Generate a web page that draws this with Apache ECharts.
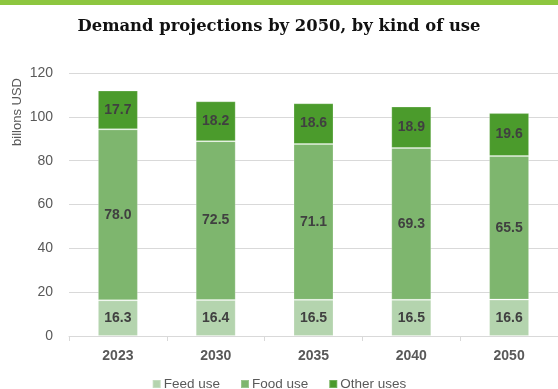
<!DOCTYPE html>
<html>
<head>
<meta charset="utf-8">
<script src="https://cdn.jsdelivr.net/npm/echarts@6/dist/echarts.min.js"></script>
<style>
  html, body { margin: 0; padding: 0; background: #ffffff; }
  #chart { width: 558px; height: 389px; }
</style>
</head>
<body>
<div id="chart"></div>
<script>
// Years shown on the category axis
const years = ['2023', '2030', '2035', '2040', '2050'];

// Demand by kind of use, billions USD
const feedUse = [16.3, 16.4, 16.5, 16.5, 16.6];
const foodUse = [78.0, 72.5, 71.1, 69.3, 65.5];
const otherUses = [17.7, 18.2, 18.6, 18.9, 19.6];

const seriesNames = ['Feed use', 'Food use', 'Other uses'];
const seriesColors = ['#b4d4ae', '#7eb66e', '#4b9b2c'];

const chart = echarts.init(document.getElementById('chart'), null, { renderer: 'canvas' });

function stackSeries(name, data, color) {
  return {
    name: name,
    type: 'bar',
    stack: 'total',
    data: data,
    barWidth: 40,
    itemStyle: { color: color, borderColor: 'rgba(255,255,255,0.22)', borderWidth: 1 },
    label: {
      show: true,
      position: 'inside',
      formatter: p => p.value.toFixed(1),
      color: '#404040',
      fontFamily: 'Liberation Sans, Arial, sans-serif',
      fontWeight: 'bold',
      fontSize: 14
    }
  };
}

chart.setOption({
  animation: false,
  title: {
    text: 'Demand projections by 2050, by kind of use',
    left: 'center',
    top: 14,
    textStyle: {
      fontFamily: 'DejaVu Serif, serif',
      fontWeight: 'bold',
      fontSize: 16.4,
      color: '#111111'
    }
  },
  graphic: [
    { type: 'rect', left: 0, top: 0, shape: { width: 558, height: 5 }, style: { fill: '#8dc63f' } },
    {
      type: 'text',
      x: 17, y: 112, rotation: Math.PI / 2,
      style: {
        text: 'billons USD',
        fill: '#595959',
        font: '13px Liberation Sans, Arial, sans-serif',
        align: 'center',
        verticalAlign: 'middle'
      }
    }
  ],
  legend: {
    data: seriesNames,
    top: 372,
    left: 'center',
    itemWidth: 8,
    itemHeight: 8,
    itemGap: 20,
    icon: 'rect',
    textStyle: { color: '#595959', fontSize: 13.5, padding: [0, 0, 0, -2], fontFamily: 'Liberation Sans, Arial, sans-serif' }
  },
  grid: { left: 69, width: 490, top: 73, height: 263 },
  xAxis: {
    type: 'category',
    data: years,
    axisLine: { lineStyle: { color: '#d9d9d9' } },
    axisTick: { show: true, length: 5, lineStyle: { color: '#d9d9d9' } },
    axisLabel: {
      color: '#595959',
      fontWeight: 'bold',
      fontSize: 14,
      margin: 13,
      fontFamily: 'Liberation Sans, Arial, sans-serif'
    }
  },
  yAxis: {
    type: 'value',
    min: 0,
    max: 120,
    interval: 20,
    axisLine: { show: false },
    axisTick: { show: false },
    splitLine: { lineStyle: { color: '#d9d9d9', width: 1 } },
    axisLabel: {
      color: '#595959',
      fontSize: 14,
      margin: 16,
      fontFamily: 'Liberation Sans, Arial, sans-serif'
    }
  },
  series: [
    stackSeries(seriesNames[0], feedUse, seriesColors[0]),
    stackSeries(seriesNames[1], foodUse, seriesColors[1]),
    stackSeries(seriesNames[2], otherUses, seriesColors[2])
  ]
});
</script>
</body>
</html>
